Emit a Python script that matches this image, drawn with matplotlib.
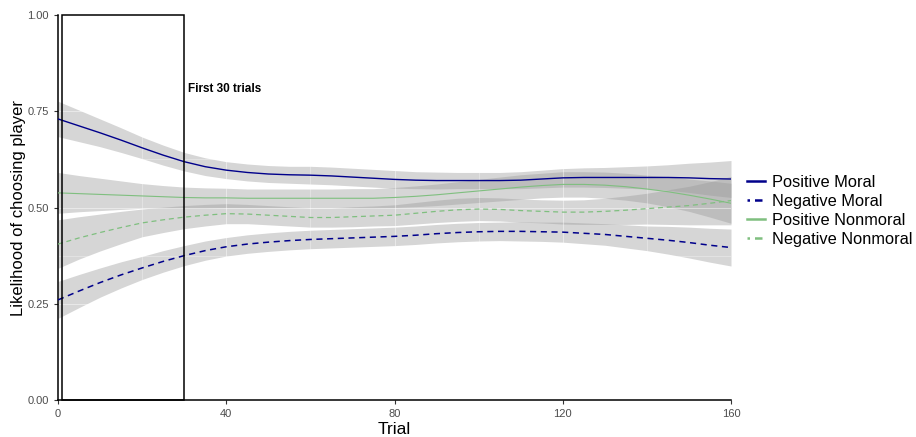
import matplotlib
matplotlib.use("Agg")
import matplotlib.pyplot as plt
import numpy as np
from matplotlib.patches import Rectangle
from matplotlib.lines import Line2D

plt.rcParams['font.family'] = ['Liberation Sans', 'DejaVu Sans']

trial = [0, 5, 10, 15, 20, 25, 30, 35, 40, 45, 50, 55, 60, 65, 70, 75, 80,
         85, 90, 95, 100, 105, 110, 115, 120, 125, 130, 135, 140, 145, 150, 155, 160]

pos_moral = [0.730, 0.712, 0.694, 0.675, 0.655, 0.636, 0.619, 0.606, 0.597, 0.591, 0.587, 0.585, 0.584, 0.582, 0.579, 0.576, 0.573,
             0.571, 0.570, 0.570, 0.570, 0.570, 0.571, 0.574, 0.577, 0.578, 0.578, 0.578, 0.578, 0.578, 0.577, 0.575, 0.574]
pos_moral_se = [0.046, 0.041, 0.036, 0.032, 0.028, 0.026, 0.024, 0.023, 0.022, 0.022, 0.022, 0.022, 0.023, 0.023, 0.023, 0.023, 0.023,
                0.022, 0.022, 0.021, 0.021, 0.021, 0.022, 0.023, 0.024, 0.025, 0.026, 0.028, 0.030, 0.033, 0.038, 0.043, 0.048]

neg_moral = [0.260, 0.283, 0.305, 0.325, 0.343, 0.360, 0.375, 0.388, 0.398, 0.405, 0.410, 0.414, 0.417, 0.419, 0.421, 0.423, 0.425,
             0.428, 0.432, 0.435, 0.437, 0.438, 0.438, 0.437, 0.436, 0.433, 0.430, 0.425, 0.420, 0.415, 0.409, 0.402, 0.396]
neg_moral_se = [0.048, 0.043, 0.038, 0.034, 0.030, 0.028, 0.026, 0.025, 0.024, 0.024, 0.024, 0.024, 0.024, 0.024, 0.024, 0.024, 0.024,
                0.024, 0.024, 0.024, 0.024, 0.024, 0.025, 0.025, 0.026, 0.027, 0.028, 0.030, 0.032, 0.036, 0.040, 0.044, 0.048]

pos_nonmoral = [0.538, 0.536, 0.534, 0.532, 0.530, 0.528, 0.526, 0.525, 0.525, 0.524, 0.524, 0.524, 0.524, 0.524, 0.524, 0.524, 0.526,
                0.529, 0.533, 0.538, 0.543, 0.548, 0.553, 0.557, 0.560, 0.560, 0.558, 0.554, 0.548, 0.541, 0.532, 0.522, 0.511]
pos_nonmoral_se = [0.053, 0.047, 0.042, 0.037, 0.032, 0.029, 0.027, 0.026, 0.025, 0.024, 0.024, 0.024, 0.024, 0.024, 0.025, 0.025, 0.026,
                   0.027, 0.028, 0.029, 0.030, 0.031, 0.032, 0.032, 0.033, 0.033, 0.034, 0.035, 0.036, 0.039, 0.042, 0.047, 0.052]

neg_nonmoral = [0.405, 0.421, 0.435, 0.448, 0.460, 0.468, 0.475, 0.480, 0.484, 0.483, 0.480, 0.477, 0.474, 0.474, 0.476, 0.478, 0.480,
                0.485, 0.490, 0.494, 0.496, 0.495, 0.492, 0.490, 0.488, 0.488, 0.490, 0.493, 0.497, 0.501, 0.505, 0.511, 0.518]
neg_nonmoral_se = [0.063, 0.055, 0.048, 0.042, 0.036, 0.033, 0.030, 0.028, 0.026, 0.025, 0.025, 0.025, 0.025, 0.025, 0.026, 0.026, 0.027,
                   0.028, 0.029, 0.030, 0.030, 0.030, 0.030, 0.030, 0.031, 0.032, 0.034, 0.037, 0.040, 0.045, 0.050, 0.056, 0.063]

labels = ["Positive Moral", "Negative Moral", "Positive Nonmoral", "Negative Nonmoral"]
x_ticks = [0, 40, 80, 120, 160]
y_ticks = [0.00, 0.25, 0.50, 0.75, 1.00]
y_ticklabels = ["0.00", "0.25", "0.50", "0.75", "1.00"]

navy = "#00008B"
green = "#7fbf7f"

fig = plt.figure(figsize=(9.16, 4.37), dpi=100)
ax = fig.add_axes([58/916, 37/437, 673/916, 385/437])

x = np.array(trial)
series = [
    (pos_moral, pos_moral_se, navy, '-', 1.0),
    (neg_moral, neg_moral_se, navy, (0, (4, 3)), 1.1),
    (pos_nonmoral, pos_nonmoral_se, green, '-', 0.8),
    (neg_nonmoral, neg_nonmoral_se, green, (0, (4, 3)), 0.9),
]

for vals, se, col, ls, lw in series:
    v = np.array(vals); s = np.array(se)
    ax.fill_between(x, v - s, v + s, color='#999999', alpha=0.4, lw=0, zorder=0.5)

# faint white grid lines (visible only over ribbons)
for gx in range(20, 160, 20):
    ax.axvline(gx, color='white', lw=0.8 if gx % 40 == 0 else 0.5, alpha=0.45, zorder=1)
for gy in np.arange(0.125, 1.0, 0.125):
    major = abs(gy * 4 - round(gy * 4)) < 1e-6
    ax.axhline(gy, color='white', lw=0.8 if major else 0.5, alpha=0.45, zorder=1)

for (vals, se, col, ls, lw), lab in zip(series, labels):
    ax.plot(x, vals, color=col, ls=ls, lw=lw, zorder=3, label=lab)

ax.add_patch(Rectangle((1, 0), 29, 1, fill=False, edgecolor='black', lw=1.1, zorder=4, clip_on=False))
ax.text(31, 0.808, "First 30 trials", fontsize=8.5, fontweight='bold', ha='left', va='center', color='black')

ax.set_xlim(0, 160)
ax.set_ylim(0, 1)
ax.set_xticks(x_ticks)
ax.set_yticks(y_ticks)
ax.set_yticklabels(y_ticklabels)
ax.tick_params(axis='both', labelsize=8, labelcolor='#4d4d4d', color='#333333', length=3, width=0.8)
for sp in ['top', 'right']:
    ax.spines[sp].set_visible(False)
for sp in ['left', 'bottom']:
    ax.spines[sp].set_linewidth(1.1)
ax.set_xlabel("Trial", fontsize=12.5, labelpad=2)
ax.set_ylabel("Likelihood of choosing player", fontsize=12, labelpad=1)

handles = [
    Line2D([], [], color=navy, lw=1.8, ls='-'),
    Line2D([], [], color=navy, lw=1.8, ls=(0, (1, 2, 3, 2))),
    Line2D([], [], color=green, lw=1.8, ls='-'),
    Line2D([], [], color=green, lw=1.8, ls=(0, (1, 2, 3, 2))),
]
leg = fig.legend(handles, labels, loc='center left', bbox_to_anchor=(747/916, 1 - 211/437),
                 frameon=False, fontsize=11.8, handlelength=1.1, handletextpad=0.4,
                 labelspacing=0.25, borderaxespad=0, borderpad=0)

fig.savefig("out.png", dpi=100)
